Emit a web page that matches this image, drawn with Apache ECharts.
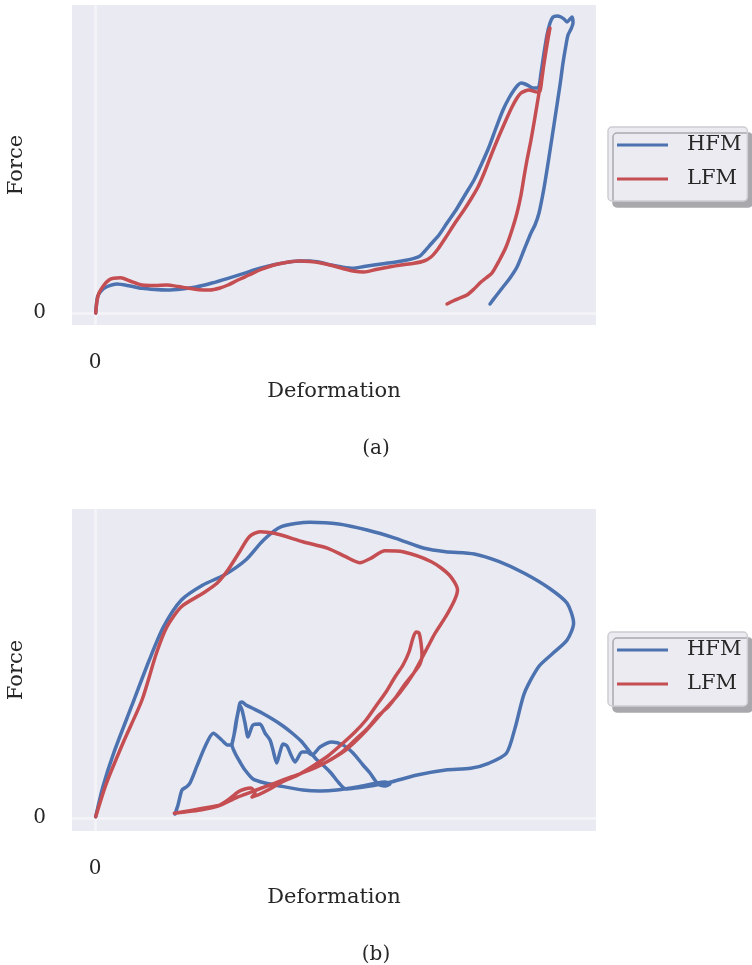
<!DOCTYPE html>
<html>
<head>
<meta charset="utf-8">
<script src="https://cdn.jsdelivr.net/npm/echarts@6/dist/echarts.min.js"></script>
<style>
html,body{margin:0;padding:0;background:#fff;}
#chart{width:752px;height:965px;}
</style>
</head>
<body>
<div id="chart"></div>
<script>
// ---- data (arbitrary units: deformation, force) ----
const seriesNames = ['HFM', 'LFM'];
const xTickLabels = ['0'];
const yTickLabels = ['0'];
const panelLabels = ['(a)', '(b)'];

const hfmA = [[0.7,0],[2.5,16],[6,22],[11.4,26],[22,29],[35,27],[47,24.7],[60,23.5],[72,23],[87,24],[101,26],[117,30],[133,34.7],[149,39.7],[165,44.7],[180,48.5],[194,51],[205,52],[215,52],[226,50.5],[236,48],[247,46],[258,44.7],[269,46.5],[279,48],[290,49.5],[301,51],[311,52.7],[319,54.7],[325,57],[329,61],[336,69],[344,78],[352,90],[361,103],[370,118],[379,133],[387,150],[394,166],[401,185],[408,203],[414,215],[419,223],[423,228],[426,230],[430,229],[434,227],[438,225],[443,225],[446,240],[449,260],[452,278],[455,290],[458,296],[462,297],[466,296],[469,294],[472,291],[475,294],[477,296],[478,290],[476,284],[473,278],[471,268],[468,250],[465,228],[460,195],[454,156],[449,125],[444,100],[440,88],[436,80],[429,63],[422,46],[415,35],[408,26],[401,17],[395,9]];

const lfmA = [[0.7,0],[2,12],[4,20],[9,28],[14,33],[18.6,34.7],[25.7,35.3],[35,32],[47,28],[60,27.5],[72,28],[83,26.5],[93.6,24.7],[104,23.3],[115,23],[125,25],[133,28],[143,33],[154,38],[166,43.5],[179,48],[191,50.5],[204,52],[215,51.5],[226,50],[237,47.5],[247,44.7],[258,42],[269,41],[281,43.5],[294,46],[306,48],[319,49.7],[329,52],[336,56],[343,64],[351,76],[360,90],[369,103],[376,114],[383,126],[390,142],[397,160],[404,177],[411,193],[417,206],[422,215],[426,220],[430,222],[434,223],[438,222],[442,221],[445,222],[447,235],[449,250],[451,266],[453,280],[455,285],[453,274],[451,262],[448,243],[444,220],[440,196],[436,173],[432,153],[429,136],[426,118],[422,100],[417,83],[411,66],[404,52],[397,40],[391,35],[386,31],[379,24],[372,18],[365,15],[358,12],[352,9]];

const hfmB = [[0.7,1.3],[7.9,31.3],[18.6,64.7],[36.4,111.3],[54.3,158],[68.6,191.3],[86.4,218],[107.9,233],[129.3,243],[150.7,258],[168.6,278],[186.4,291.3],[215,295.7],[243.6,294],[272.1,288],[300.7,279.7],[329.3,269.7],[350.7,266.3],[379.3,264],[404.3,256.3],[429.3,244.7],[454.3,229.7],[472.1,214.7],[478.6,194.7],[472.1,178],[457.9,164.7],[443.6,151.3],[429.3,124.7],[420.4,91.3],[411.4,64.7],[393.6,54.7],[375.7,49.7],[350.7,48],[322.1,43],[297.1,36.3],[287,34],[275,32],[261,30],[251,29],[244,35],[236,45],[229,52],[221,59],[215,66],[206,77],[197,85],[188,92],[179,98],[167,105],[157,110],[151,113],[147,116],[145,115],[143,106],[141,96],[139,83],[137,73],[140,65],[145,56],[150,48],[158,39],[170,35],[185,32],[208,28],[225,27],[242,28],[262,31],[282,35],[290,36],[295,34],[290,32],[283,34],[275,45],[268,53],[258,65],[248,73],[237,76],[225,71],[217,63],[212,66],[207,66],[200,56],[196,63],[192,72],[188,74],[185,66],[181.7,55],[178,68],[175,78],[170,85],[165,94],[158,93],[155,86],[153,81],[150,95],[147,108],[145,112],[142,100],[140,88],[136,73],[133,73],[126.7,78],[118.3,84.7],[110,71.3],[101.7,51.3],[95,35],[91.7,31.3],[87,28],[83,13],[80,4]];

const lfmB = [[0.7,1.3],[11.4,34.7],[29.3,78],[47,118],[61.4,164.7],[72,191.3],[86.4,211.3],[107.9,224.7],[122,234.7],[132.9,248],[143.6,264.7],[154.3,281.3],[165,286.3],[179.3,284.7],[207.9,276.3],[232.9,269.7],[250.7,261.3],[265,255.3],[275.7,259.7],[290,267.3],[307.9,266.3],[336.4,256.3],[354.3,243],[362.5,228],[359.6,218],[350.7,201.3],[340,184.7],[332.9,171.3],[318.6,144.7],[304.3,124.7],[286.4,104.7],[268.6,84.7],[250.7,68],[229.3,54.7],[215,48],[197,41.3],[179.3,34.7],[161.4,28],[143.6,21.3],[125.7,13],[107.9,9.7],[79.3,4.7],[90,6],[105,8],[123,12],[133,18],[143,26],[150,29],[156,30],[160,25],[157,21],[163,23],[173,28],[187,36],[203,43],[218,52],[233,62],[247,74],[260,86],[271,98],[281,112],[291,126],[300,141],[308,153],[314,166],[318,180],[321,186],[324,185],[326,175],[327,163],[325,154],[318,144],[310,134],[301,121],[293,111],[283,102],[273,90],[260,78],[247,66],[235,58]];

// ---- chart ----
const FONT = 'DejaVu Serif';
const TXT = '#262626';
const BLUE = '#4C72B0';
const RED = '#C44E52';

const chart = echarts.init(document.getElementById('chart'), null, {renderer: 'canvas'});

function xAxisDef(gi) {
  return {
    type: 'value', gridIndex: gi, min: -23, max: 501, interval: 23,
    axisLine: {show: false}, axisTick: {show: false}, splitLine: {show: false},
    axisLabel: {
      margin: 28, color: TXT, fontFamily: FONT, fontSize: 20,
      formatter: v => (Math.abs(v) < 1e-6 ? xTickLabels[0] : '')
    },
    name: 'Deformation', nameLocation: 'middle', nameGap: 56,
    nameTextStyle: {color: TXT, fontFamily: FONT, fontSize: 21}
  };
}
function yAxisDef(gi, mn, mx, iv) {
  return {
    type: 'value', gridIndex: gi, min: mn, max: mx, interval: iv,
    axisLine: {show: false}, axisTick: {show: false}, splitLine: {show: false},
    axisLabel: {
      margin: 26, color: TXT, fontFamily: FONT, fontSize: 20,
      formatter: v => (Math.abs(v) < 1e-6 ? yTickLabels[0] : '')
    },
    name: 'Force', nameLocation: 'middle', nameGap: 45, nameRotate: 90, nameMoveOverlap: false,
    nameTextStyle: {color: TXT, fontFamily: FONT, fontSize: 21}
  };
}
function zeroLines() {
  return {
    silent: true, symbol: 'none', z: 1,
    label: {show: false},
    lineStyle: {color: '#F4F4F8', width: 2.5, type: 'solid'},
    emphasis: {disabled: true},
    data: [{xAxis: 0}, {yAxis: 0}]
  };
}
function lineSeries(name, data, color, gi, withZero) {
  const s = {
    name: name, type: 'line', xAxisIndex: gi, yAxisIndex: gi,
    data: data, showSymbol: false, symbol: 'none', smooth: 0.25, z: 3,
    lineStyle: {color: color, width: 3.5, cap: 'round', join: 'round'},
    itemStyle: {color: color}
  };
  if (withZero) s.markLine = zeroLines();
  return s;
}
function legendDef(top) {
  return {
    data: seriesNames, orient: 'vertical', left: 608, top: top,
    icon: 'rect', itemWidth: 51, itemHeight: 3, itemGap: 10,
    padding: [6, 6, 10, 9],
    backgroundColor: '#EBEBF1', borderColor: '#CDCDD2', borderWidth: 1.5, borderRadius: 4,
    shadowColor: '#A9A9AD', shadowBlur: 0, shadowOffsetX: 5, shadowOffsetY: 6,
    textStyle: {color: TXT, fontFamily: FONT, fontSize: 21, lineHeight: 24, padding: [0, 0, 0, 14]}
  };
}

const gridBase = {show: true, backgroundColor: '#EAEAF2', borderWidth: 0, containLabel: false, outerBoundsMode: 'none'};

chart.setOption({
  animation: false,
  backgroundColor: '#ffffff',
  grid: [
    Object.assign({left: 72, top: 5, width: 524, height: 320}, gridBase),
    Object.assign({left: 72, top: 509, width: 524, height: 322}, gridBase)
  ],
  xAxis: [xAxisDef(0), xAxisDef(1)],
  yAxis: [yAxisDef(0, -12, 308, 12), yAxisDef(1, -13, 309, 13)],
  legend: [legendDef(127), legendDef(632)],
  graphic: [
    {type: 'text', left: 'center', top: 439, style: {text: panelLabels[0], fill: TXT, font: '20px "DejaVu Serif"'}},
    {type: 'text', left: 'center', top: 945, style: {text: panelLabels[1], fill: TXT, font: '20px "DejaVu Serif"'}}
  ],
  series: [
    lineSeries('HFM', hfmA, BLUE, 0, true),
    lineSeries('LFM', lfmA, RED, 0, false),
    lineSeries('HFM', hfmB, BLUE, 1, true),
    lineSeries('LFM', lfmB, RED, 1, false)
  ]
});
</script>
</body>
</html>
